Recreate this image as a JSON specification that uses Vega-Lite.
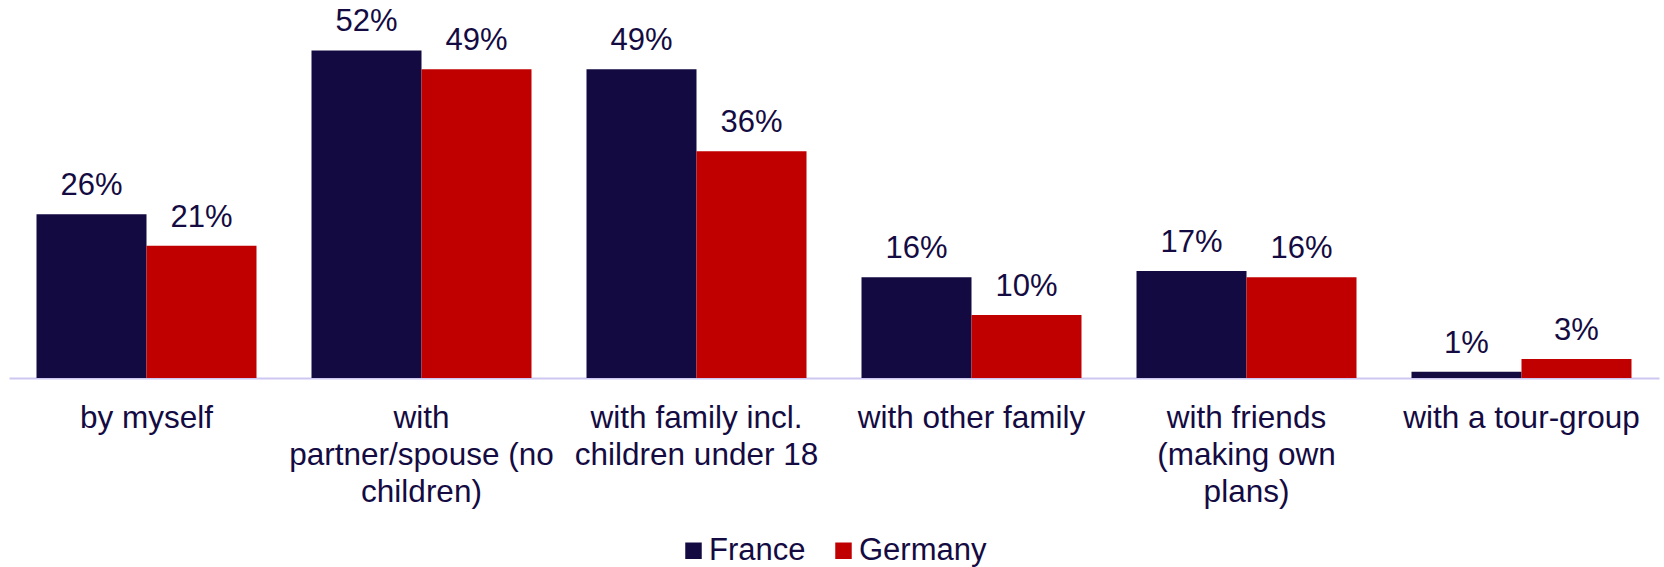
{
  "$schema": "https://vega.github.io/schema/vega-lite/v6.json",
  "autosize": {"type": "none"},
  "width": 1650,
  "height": 378,
  "padding": {"left": 9, "top": 0, "right": 5, "bottom": 189},
  "background": "white",
  "config": {
    "view": {"stroke": null},
    "font": "Liberation Sans",
    "legend": {"padding": 0}
  },
  "data": {
    "values": [
      {"category": "by myself", "country": "France", "value": 0.26},
      {"category": "by myself", "country": "Germany", "value": 0.21},
      {"category": "with partner/spouse (no children)", "country": "France", "value": 0.52},
      {"category": "with partner/spouse (no children)", "country": "Germany", "value": 0.49},
      {"category": "with family incl. children under 18", "country": "France", "value": 0.49},
      {"category": "with family incl. children under 18", "country": "Germany", "value": 0.36},
      {"category": "with other family", "country": "France", "value": 0.16},
      {"category": "with other family", "country": "Germany", "value": 0.10},
      {"category": "with friends (making own plans)", "country": "France", "value": 0.17},
      {"category": "with friends (making own plans)", "country": "Germany", "value": 0.16},
      {"category": "with a tour-group", "country": "France", "value": 0.01},
      {"category": "with a tour-group", "country": "Germany", "value": 0.03}
    ]
  },
  "encoding": {
    "x": {
      "field": "category",
      "type": "nominal",
      "sort": null,
      "scale": {"paddingInner": 0.2, "paddingOuter": 0.1},
      "axis": {
        "title": null,
        "ticks": false,
        "labelAngle": 0,
        "labelFont": "Liberation Sans",
        "labelFontSize": 31.5,
        "labelColor": "#140b42",
        "labelPadding": 24,
        "labelLineHeight": 37,
        "labelLimit": 0,
        "labelBaseline": "top",
        "domainColor": "#cdc8f2",
        "domainWidth": 2,
        "labelExpr": "datum.value == 'with partner/spouse (no children)' ? ['with', 'partner/spouse (no', 'children)'] : datum.value == 'with family incl. children under 18' ? ['with family incl.', 'children under 18'] : datum.value == 'with friends (making own plans)' ? ['with friends', '(making own', 'plans)'] : datum.value"
      }
    },
    "xOffset": {"field": "country", "type": "nominal", "scale": {"paddingInner": 0, "paddingOuter": 0}},
    "y": {
      "field": "value",
      "type": "quantitative",
      "scale": {"domain": [0, 0.6], "nice": false, "zero": true},
      "axis": null
    }
  },
  "layer": [
    {
      "mark": {"type": "bar"},
      "encoding": {
        "color": {
          "field": "country",
          "type": "nominal",
          "scale": {"domain": ["France", "Germany"], "range": ["#140a42", "#c00000"]},
          "legend": {
            "orient": "none",
            "legendX": 669,
            "legendY": 535,
            "direction": "horizontal",
            "title": null,
            "symbolType": "square",
            "symbolSize": 272,
            "symbolStrokeWidth": 0,
            "labelFont": "Liberation Sans",
            "labelFontSize": 31,
            "labelColor": "#140b42",
            "labelOffset": 0,
            "columnPadding": 22
          }
        }
      }
    },
    {
      "mark": {
        "type": "text",
        "baseline": "alphabetic",
        "dy": -19,
        "font": "Liberation Sans",
        "fontSize": 31,
        "color": "#140b42"
      },
      "encoding": {
        "text": {"field": "value", "type": "quantitative", "format": ".0%"}
      }
    }
  ]
}
